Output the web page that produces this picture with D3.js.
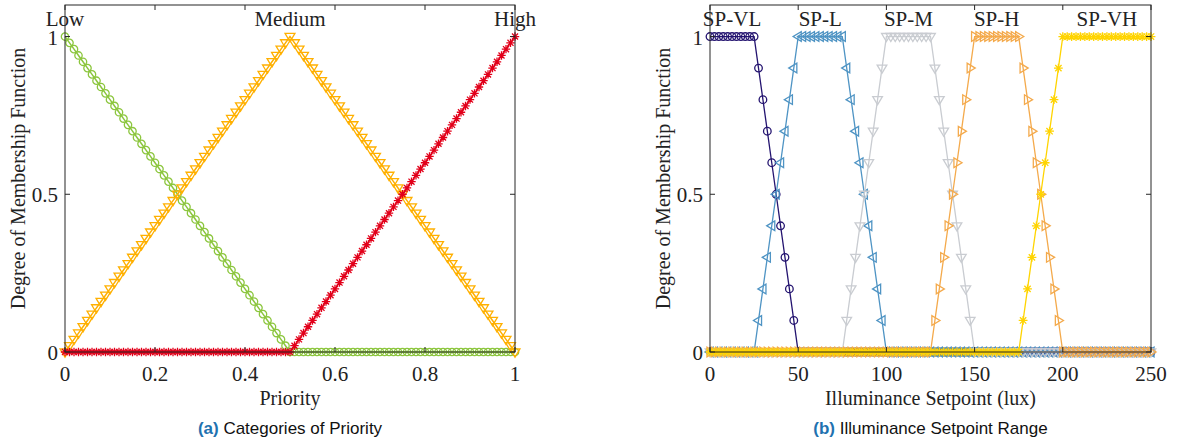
<!DOCTYPE html>
<html>
<head>
<meta charset="utf-8">
<script src="https://cdn.jsdelivr.net/npm/d3@7"></script>
<style>
  body { margin: 0; background: #fff; }
  svg text { font-family: "Liberation Serif", "Times New Roman", serif; fill: #222; }
  .cap { font-family: "Liberation Sans", Arial, sans-serif; }
</style>
</head>
<body>
<svg id="chart" width="1183" height="443"></svg>
<script>
// ---- data ----
// (a) priority membership functions: breakpoints [x, degree]
const priorityNames = ["Low", "Medium", "High"];
const priorityLabelX = [0, 0.5, 1];
const lowPts = [[0, 1], [0.5, 0], [1, 0]];
const mediumPts = [[0, 0], [0.5, 1], [1, 0]];
const highPts = [[0, 0], [0.5, 0], [1, 1]];
const priorityStep = 0.01;
const priorityTicks = [0, 0.2, 0.4, 0.6, 0.8, 1];

// (b) illuminance setpoint membership functions (trapezoids, lux)
const spNames = ["SP-VL", "SP-L", "SP-M", "SP-H", "SP-VH"];
const spLabelX = [12.5, 62.5, 112.5, 162.5, 225];
const spVL = [[0, 1], [25, 1], [50, 0], [250, 0]];
const spL = [[0, 0], [25, 0], [50, 1], [75, 1], [100, 0], [250, 0]];
const spM = [[0, 0], [75, 0], [100, 1], [125, 1], [150, 0], [250, 0]];
const spH = [[0, 0], [125, 0], [150, 1], [175, 1], [200, 0], [250, 0]];
const spVH = [[0, 0], [175, 0], [200, 1], [250, 1]];
const luxStep = 2.5;
const luxTicks = [0, 50, 100, 150, 200, 250];

const degreeTicks = [0, 0.5, 1];

const svg = d3.select("#chart");

// sample a piecewise-linear membership function at the plotted grid
function sample(pts, step) {
  const x0 = pts[0][0], x1 = pts[pts.length - 1][0];
  const n = Math.round((x1 - x0) / step);
  const xs = pts.map(p => p[0]), ys = pts.map(p => p[1]);
  const out = [];
  for (let i = 0; i <= n; i++) {
    const x = x0 + i * step;
    let j = d3.bisectRight(xs, x) - 1;
    if (j >= xs.length - 1) j = xs.length - 2;
    const t = (x - xs[j]) / (xs[j + 1] - xs[j]);
    out.push([x, ys[j] + t * (ys[j + 1] - ys[j])]);
  }
  return out;
}

function markerPath(kind, s) {
  if (kind == "circle") return d3.symbol(d3.symbolCircle, Math.PI * s * s)();
  if (kind == "star") {
    const d = s * 0.72;
    return `M${-s},0L${s},0M0,${-s}L0,${s}M${-d},${-d}L${d},${d}M${-d},${d}L${d},${-d}`;
  }
  // triangles, pointing down / left / right
  const h = s * 1.15, w = s * 1.1;
  if (kind == "down") return `M${-w},${-h * 0.6}L${w},${-h * 0.6}L0,${h}Z`;
  if (kind == "left") return `M${h * 0.6},${-w}L${h * 0.6},${w}L${-h},0Z`;
  if (kind == "right") return `M${-h * 0.6},${-w}L${-h * 0.6},${w}L${h},0Z`;
}

function panel(opt) {
  const g = svg.append("g");
  const x = d3.scaleLinear().domain(opt.xDomain).range([opt.left, opt.right]);
  const y = d3.scaleLinear().domain([0, 1.1]).range([352, 5]);

  // series
  opt.series.forEach(function (s) {
    const data = sample(s.pts, opt.step);
    g.append("path")
      .datum(data)
      .attr("fill", "none")
      .attr("stroke", s.color)
      .attr("stroke-width", s.lw)
      .attr("d", d3.line().x(d => x(d[0])).y(d => y(d[1])));
    g.selectAll(null)
      .data(data)
      .enter().append("path")
      .attr("transform", d => `translate(${x(d[0])},${y(d[1])})`)
      .attr("d", markerPath(s.marker, s.size))
      .attr("fill", "none")
      .attr("stroke", s.color)
      .attr("stroke-width", 1.3);
  });

  // box
  g.append("rect")
    .attr("x", opt.left).attr("y", 5)
    .attr("width", opt.right - opt.left).attr("height", 347)
    .attr("fill", "none").attr("stroke", "#262626").attr("stroke-width", 1);

  // ticks (inward, all sides)
  opt.xTicks.forEach(function (t) {
    g.append("line").attr("x1", x(t)).attr("x2", x(t)).attr("y1", 5).attr("y2", 10)
      .attr("stroke", "#262626");
    g.append("line").attr("x1", x(t)).attr("x2", x(t)).attr("y1", 352).attr("y2", 347)
      .attr("stroke", "#262626");
    g.append("text").attr("x", x(t)).attr("y", 381)
      .attr("text-anchor", "middle").attr("font-size", 21).text(t);
  });
  degreeTicks.forEach(function (t) {
    g.append("line").attr("x1", opt.left).attr("x2", opt.left + 5).attr("y1", y(t)).attr("y2", y(t))
      .attr("stroke", "#262626");
    g.append("line").attr("x1", opt.right).attr("x2", opt.right - 5).attr("y1", y(t)).attr("y2", y(t))
      .attr("stroke", "#262626");
    g.append("text").attr("x", opt.left - 7).attr("y", y(t) + 8)
      .attr("text-anchor", "end").attr("font-size", 21).text(t);
  });

  // category labels over the plot
  opt.names.forEach(function (n, i) {
    g.append("text").attr("x", x(opt.labelX[i])).attr("y", 26)
      .attr("text-anchor", "middle").attr("font-size", 21).text(n);
  });

  // axis titles
  g.append("text").attr("x", (opt.left + opt.right) / 2).attr("y", 405)
    .attr("text-anchor", "middle").attr("font-size", 20).text(opt.xTitle);
  g.append("text")
    .attr("transform", `translate(${opt.left - 40},178.5) rotate(-90)`)
    .attr("text-anchor", "middle").attr("font-size", 20)
    .text("Degree of Membership Function");

  // caption
  const cap = g.append("text").attr("class", "cap")
    .attr("x", (opt.left + opt.right) / 2).attr("y", 434)
    .attr("text-anchor", "middle").attr("font-size", 17);
  cap.append("tspan").attr("font-weight", "bold").attr("fill", "#1f72b0").text(opt.capTag);
  cap.append("tspan").attr("fill", "#111").text(" " + opt.capText);
}

panel({
  left: 65, right: 515, xDomain: [0, 1], step: priorityStep,
  xTicks: priorityTicks, names: priorityNames, labelX: priorityLabelX,
  xTitle: "Priority", capTag: "(a)", capText: "Categories of Priority",
  series: [
    {pts: lowPts, color: "#8cc63e", marker: "circle", size: 3.7, lw: 1.5},
    {pts: mediumPts, color: "#ffb000", marker: "down", size: 4.5, lw: 1.5},
    {pts: highPts, color: "#e2001a", marker: "star", size: 4.2, lw: 1.5}
  ]
});

panel({
  left: 710, right: 1151, xDomain: [0, 250], step: luxStep,
  xTicks: luxTicks, names: spNames, labelX: spLabelX,
  xTitle: "Illuminance Setpoint (lux)", capTag: "(b)", capText: "Illuminance Setpoint Range",
  series: [
    {pts: spVL, color: "#241470", marker: "circle", size: 3.8, lw: 1.3},
    {pts: spL, color: "#4f94c4", marker: "left", size: 4.4, lw: 1.3},
    {pts: spM, color: "#c9ccd1", marker: "down", size: 4.4, lw: 1.3},
    {pts: spH, color: "#f4aa4c", marker: "right", size: 4.4, lw: 1.3},
    {pts: spVH, color: "#ffd400", marker: "star", size: 4.4, lw: 1.3}
  ]
});
</script>
</body>
</html>
